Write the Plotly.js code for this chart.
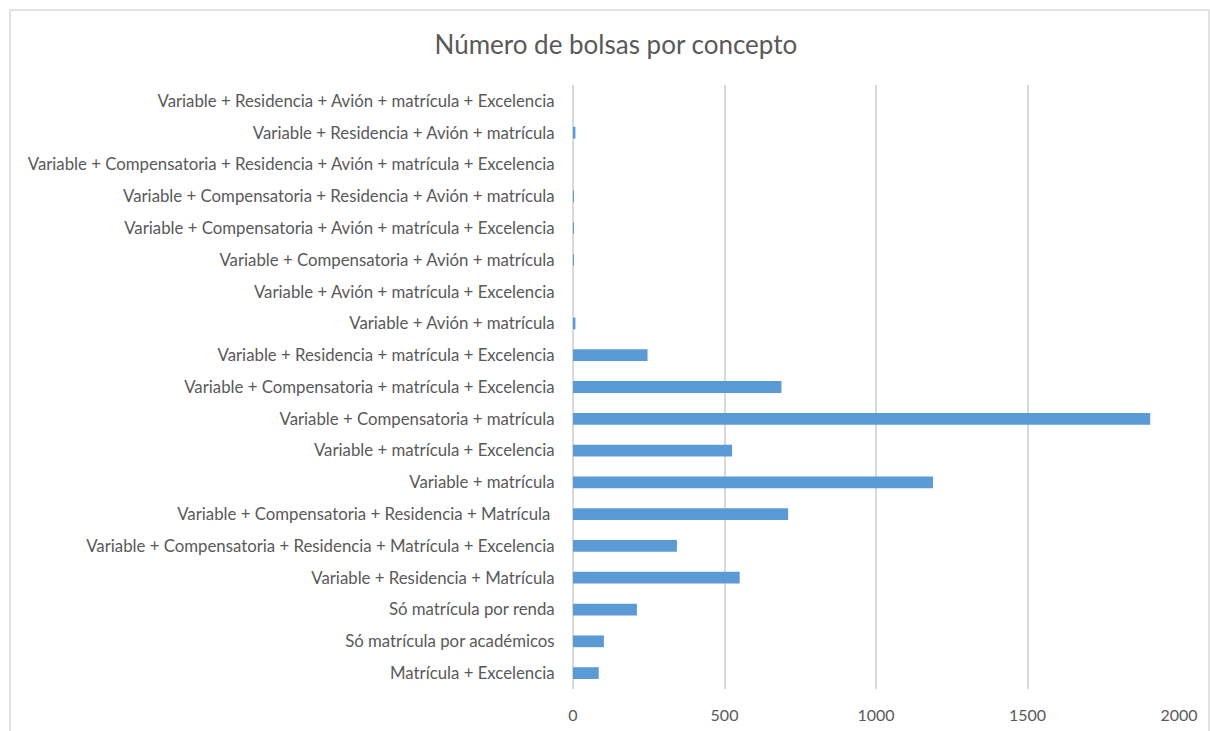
<!DOCTYPE html>
<html>
<head>
<meta charset="utf-8">
<script src="https://cdn.plot.ly/plotly-3.0.1.min.js"></script>
<style>
  html, body { margin: 0; padding: 0; background: #ffffff; }
  #chart { width: 1210px; height: 731px; }
</style>
</head>
<body>
<div id="chart"></div>
<script>
// Categories, bottom to top
const categories = [
  "Matrícula + Excelencia",
  "Só matrícula por académicos",
  "Só matrícula por renda",
  "Variable + Residencia + Matrícula",
  "Variable + Compensatoria + Residencia + Matrícula + Excelencia",
  "Variable + Compensatoria + Residencia + Matrícula ",
  "Variable + matrícula",
  "Variable + matrícula + Excelencia",
  "Variable + Compensatoria + matrícula",
  "Variable + Compensatoria + matrícula + Excelencia",
  "Variable + Residencia + matrícula + Excelencia",
  "Variable + Avión + matrícula",
  "Variable + Avión + matrícula + Excelencia",
  "Variable + Compensatoria + Avión + matrícula",
  "Variable + Compensatoria + Avión + matrícula + Excelencia",
  "Variable + Compensatoria + Residencia + Avión + matrícula",
  "Variable + Compensatoria + Residencia + Avión + matrícula + Excelencia",
  "Variable + Residencia + Avión + matrícula",
  "Variable + Residencia + Avión + matrícula + Excelencia"
];
const values = [85, 102, 211, 550, 343, 710, 1188, 525, 1905, 688, 246, 8, 0, 3, 3, 3, 0, 8, 0];
const xTicks = [0, 500, 1000, 1500, 2000];

const trace = {
  type: 'bar',
  orientation: 'h',
  y: categories,
  x: values,
  marker: { color: '#5b9bd5' },
  hoverinfo: 'x+y'
};

const layout = {
  width: 1210,
  height: 731,
  margin: { l: 573, r: 31, t: 85, b: 42 },
  paper_bgcolor: '#ffffff',
  plot_bgcolor: '#ffffff',
  bargap: 0.63,
  showlegend: false,
  font: { family: 'Lato, "Open Sans", sans-serif', color: '#595959', size: 16 },
  title: {
    text: 'Número de bolsas por concepto',
    font: { family: 'Lato, "Open Sans", sans-serif', size: 26, color: '#595959' },
    x: 0.509, xanchor: 'center',
    y: 0.938, yanchor: 'middle'
  },
  xaxis: {
    range: [0, 2000],
    tickvals: xTicks,
    ticktext: xTicks.map(String),
    showgrid: true,
    gridcolor: '#d9d9d9',
    gridwidth: 1.5,
    zeroline: true,
    zerolinecolor: '#d9d9d9',
    zerolinewidth: 1.5,
    showline: false,
    ticks: 'outside',
    ticklen: 12,
    tickcolor: 'rgba(0,0,0,0)',
    tickfont: { size: 16, color: '#595959' },
    fixedrange: true
  },
  yaxis: {
    type: 'category',
    showgrid: false,
    zeroline: false,
    showline: false,
    ticks: 'outside',
    ticklen: 14,
    tickcolor: 'rgba(0,0,0,0)',
    tickfont: { size: 16.8, color: '#595959' },
    automargin: false,
    fixedrange: true
  },
  shapes: [{
    type: 'rect',
    xref: 'paper', yref: 'paper',
    x0: (10 - 573) / 606, x1: (1209 - 573) / 606,
    y0: -0.2, y1: 1 + 75 / 604,
    line: { color: '#d9d9d9', width: 1.5 },
    fillcolor: 'rgba(0,0,0,0)',
    layer: 'below'
  }]
};

Plotly.newPlot('chart', [trace], layout, { displayModeBar: false, responsive: false });
</script>
</body>
</html>
